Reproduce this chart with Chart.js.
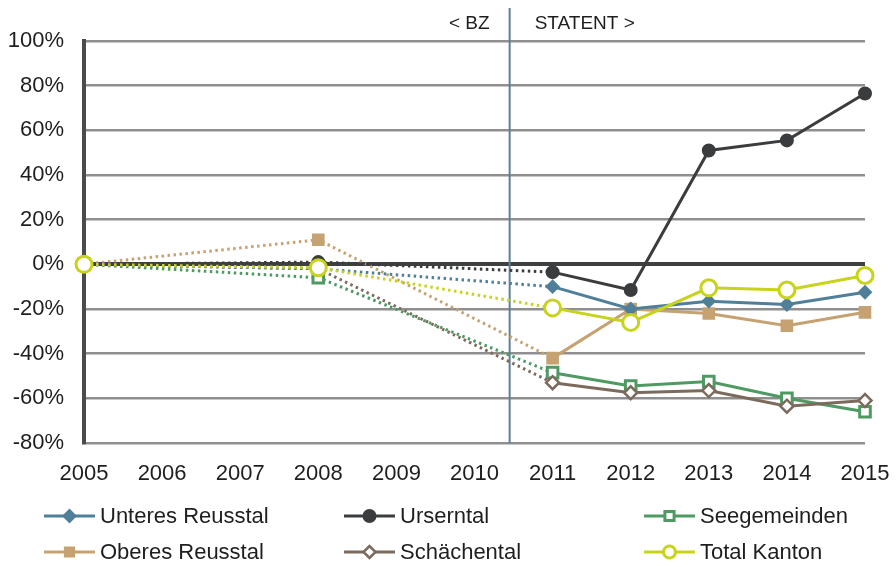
<!DOCTYPE html>
<html>
<head>
<meta charset="utf-8">
<script src="https://cdn.jsdelivr.net/npm/chart.js@4/dist/chart.umd.min.js"></script>
<style>
  html, body { margin: 0; padding: 0; background: #ffffff; }
  #wrap { width: 896px; height: 567px; position: relative; }
</style>
</head>
<body>
<div id="wrap"><canvas id="c" width="896" height="567"></canvas></div>
<script>
// Years on the x axis; years without survey data are left as null
const years = ['2005', '2006', '2007', '2008', '2009', '2010', '2011', '2012', '2013', '2014', '2015'];
const yTicks = [100, 80, 60, 40, 20, 0, -20, -40, -60, -80];

// Change in percent relative to 2005
const unteresReusstal = [0, null, null, -2, null, null, -10, -20, -16.5, -18, -12.5];
const urserntal       = [0, null, null, 1, null, null, -3.5, -11.5, 51, 55.5, 76.5];
const seegemeinden    = [0, null, null, -6, null, null, -48.5, -54.5, -52.5, -60, -66];
const oberesReusstal  = [0, null, null, 11, null, null, -42, -20, -22, -27.5, -21.5];
const schaechental    = [0, null, null, -2, null, null, -53, -57.5, -56.5, -63.5, -61];
const totalKanton     = [0, null, null, -1.5, null, null, -19.5, -26, -10.5, -11.5, -5];

// Break between the two data sources (BZ until 2008, STATENT from 2011)
const sourceBreak = 5.45;
const firstStatentIndex = 6;

const FONT = "'Liberation Sans', Arial, sans-serif";
const TEXT = '#1e1e1e';

const series = [
  { label: 'Unteres Reusstal', data: unteresReusstal, color: '#4f7f99', style: 'rectRot', radius: 6, fill: '#4f7f99', bw: 2, order: 3 },
  { label: 'Urserntal',        data: urserntal,       color: '#3a3c3e', style: 'circle',  radius: 6, fill: '#3a3c3e', bw: 2, order: 2 },
  { label: 'Seegemeinden',     data: seegemeinden,    color: '#4f9a62', style: 'rect',    radius: 7.5, fill: '#ffffff', bw: 3, order: 6 },
  { label: 'Oberes Reusstal',  data: oberesReusstal,  color: '#c6a272', style: 'rect',    radius: 7.5, fill: '#c6a272', bw: 2, order: 4 },
  { label: 'Schächental',      data: schaechental,    color: '#7c6b5d', style: 'rectRot', radius: 6.5, fill: '#ffffff', bw: 2.5, order: 5 },
  { label: 'Total Kanton',     data: totalKanton,     color: '#c8d31c', style: 'circle',  radius: 8, fill: '#ffffff', bw: 3, order: 1 }
];

const datasets = series.map(s => ({
  label: s.label,
  data: s.data,
  borderColor: s.color,
  backgroundColor: s.fill,
  pointBackgroundColor: s.fill,
  pointBorderColor: s.color,
  pointBorderWidth: s.bw,
  pointStyle: s.style,
  pointRadius: s.radius,
  pointHoverRadius: s.radius,
  borderWidth: 3,
  spanGaps: true,
  tension: 0,
  order: s.order,
  segment: {
    // the interpolated stretch before the STATENT series is dotted
    borderDash: ctx => ctx.p1DataIndex <= firstStatentIndex ? [2.5, 3.5] : undefined
  }
}));

// Vertical separator and the source captions above the plot
const sourcePlugin = {
  id: 'sourceBreak',
  beforeDatasetsDraw(chart) {
    const { ctx, scales: { x }, chartArea } = chart;
    const px = x.getPixelForValue(sourceBreak);
    ctx.save();
    ctx.strokeStyle = '#5e7f96';
    ctx.lineWidth = 2;
    ctx.beginPath();
    ctx.moveTo(px, 8);
    ctx.lineTo(px, chartArea.bottom);
    ctx.stroke();
    ctx.fillStyle = TEXT;
    ctx.font = '19px ' + FONT;
    ctx.textBaseline = 'middle';
    ctx.textAlign = 'right';
    ctx.fillText('< BZ', px - 20, 24);
    ctx.textAlign = 'left';
    ctx.fillText('STATENT >', px + 25, 24);
    ctx.restore();
  }
};

// Three-column legend under the x axis
const legendPlugin = {
  id: 'gridLegend',
  afterDraw(chart) {
    const { ctx } = chart;
    const cols = [44, 344, 644];
    const rows = [516, 552];
    chart.data.datasets.forEach((ds, i) => {
      const x0 = cols[i % 3];
      const y = rows[Math.floor(i / 3)];
      ctx.save();
      ctx.strokeStyle = ds.borderColor;
      ctx.lineWidth = 3;
      ctx.setLineDash([]);
      ctx.beginPath();
      ctx.moveTo(x0, y);
      ctx.lineTo(x0 + 51, y);
      ctx.stroke();
      ctx.fillStyle = ds.pointBackgroundColor;
      ctx.strokeStyle = ds.pointBorderColor;
      ctx.lineWidth = ds.pointBorderWidth;
      Chart.helpers.drawPoint(ctx, {
        pointStyle: ds.pointStyle,
        radius: ds.pointStyle === 'rect' ? 6.5 : 6,
        borderWidth: ds.pointBorderWidth,
        rotation: 0
      }, x0 + 25.5, y);
      ctx.fillStyle = TEXT;
      ctx.font = '22px ' + FONT;
      ctx.textAlign = 'left';
      ctx.textBaseline = 'middle';
      ctx.fillText(ds.label, x0 + 56, y + 1);
      ctx.restore();
    });
  }
};

new Chart(document.getElementById('c'), {
  type: 'line',
  data: { labels: years, datasets },
  options: {
    responsive: false,
    animation: false,
    events: [],
    layout: { padding: { top: 41, right: 31, bottom: 80, left: 0 } },
    plugins: {
      legend: { display: false },
      tooltip: { enabled: false }
    },
    scales: {
      x: {
        type: 'category',
        offset: false,
        grid: { display: false },
        border: { display: false },
        ticks: {
          color: TEXT,
          font: { family: FONT, size: 22 },
          padding: 10,
          maxRotation: 0,
          autoSkip: false
        },
        afterFit(scale) {
          scale.height = 44;
          scale.paddingLeft = 0;
          scale.paddingRight = 0;
        }
      },
      y: {
        min: -80,
        max: 100,
        afterBuildTicks(scale) { scale.ticks = yTicks.map(v => ({ value: v })); },
        grid: {
          drawTicks: false,
          color: ctx => ctx.tick && ctx.tick.value === 0 ? '#3f4042' : '#8f8f8f',
          lineWidth: ctx => ctx.tick && ctx.tick.value === 0 ? 4 : 2.5
        },
        border: { display: true, color: '#4a4b4d', width: 4 },
        ticks: {
          color: TEXT,
          font: { family: FONT, size: 22 },
          padding: 20,
          callback: v => v + '%'
        },
        afterFit(scale) { scale.width = 84; }
      }
    }
  },
  plugins: [sourcePlugin, legendPlugin]
});
</script>
</body>
</html>
